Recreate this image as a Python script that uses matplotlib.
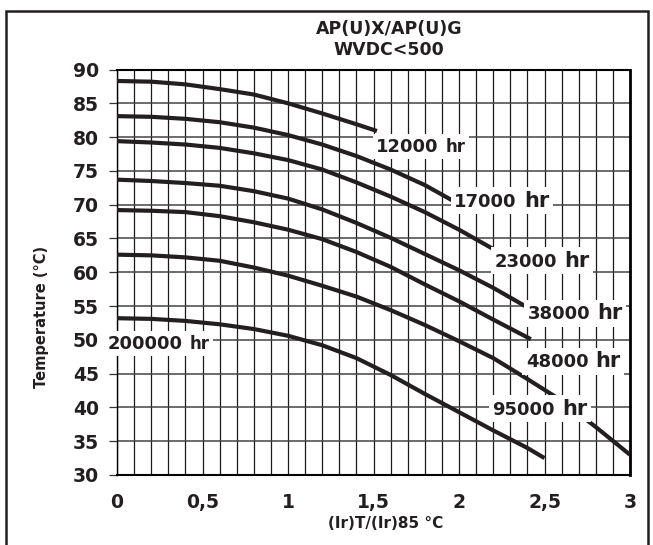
import matplotlib
matplotlib.use("Agg")
import matplotlib.pyplot as plt
from matplotlib.offsetbox import TextArea, HPacker, AnnotationBbox
from matplotlib.patches import Rectangle
from matplotlib.ticker import MultipleLocator

plt.rcParams['font.family'] = ['DejaVu Sans']

# ripple current ratio vs temperature, one curve per life time
x_12000 = [0, 0.2, 0.4, 0.6, 0.8, 1.0, 1.2, 1.4, 1.52]
y_12000 = [88.3, 88.2, 87.8, 87.1, 86.3, 85.0, 83.5, 81.9, 80.9]

x_17000 = [0, 0.2, 0.4, 0.6, 0.8, 1.0, 1.2, 1.4, 1.6, 1.8, 1.97]
y_17000 = [83.1, 83.0, 82.7, 82.2, 81.4, 80.3, 78.9, 77.2, 75.2, 72.9, 70.5]

x_23000 = [0, 0.2, 0.4, 0.6, 0.8, 1.0, 1.2, 1.4, 1.6, 1.8, 2.0, 2.21]
y_23000 = [79.4, 79.2, 78.9, 78.4, 77.6, 76.6, 75.2, 73.3, 71.2, 68.9, 66.3, 63.3]

x_38000 = [0, 0.2, 0.4, 0.6, 0.8, 1.0, 1.2, 1.4, 1.6, 1.8, 2.0, 2.2, 2.4]
y_38000 = [73.7, 73.5, 73.2, 72.8, 72.0, 70.9, 69.3, 67.3, 65.1, 62.7, 60.3, 57.7, 54.8]

x_48000 = [0, 0.2, 0.4, 0.6, 0.8, 1.0, 1.2, 1.4, 1.6, 1.8, 2.0, 2.2, 2.42]
y_48000 = [69.2, 69.1, 68.9, 68.3, 67.4, 66.3, 64.9, 63.0, 60.8, 58.2, 55.7, 53.0, 50.1]

x_95000 = [0, 0.2, 0.4, 0.6, 0.8, 1.0, 1.2, 1.4, 1.6, 1.8, 2.0, 2.2, 2.4, 2.6, 2.8, 3.0]
y_95000 = [62.6, 62.5, 62.2, 61.7, 60.7, 59.5, 58.0, 56.4, 54.4, 52.2, 49.8, 47.3, 44.2, 41.0, 37.1, 33.0]

x_200000 = [0, 0.2, 0.4, 0.6, 0.8, 1.0, 1.2, 1.4, 1.6, 1.8, 2.0, 2.2, 2.4, 2.5]
y_200000 = [53.2, 53.1, 52.8, 52.3, 51.6, 50.6, 49.2, 47.3, 44.8, 42.0, 39.3, 36.6, 34.0, 32.5]

curves_x = [x_12000, x_17000, x_23000, x_38000, x_48000, x_95000, x_200000]
curves_y = [y_12000, y_17000, y_23000, y_38000, y_48000, y_95000, y_200000]

label_nums = ["12000", "17000", "23000", "38000", "48000", "95000", "200000"]
label_x = [1.517, 1.973, 2.207, 2.40, 2.39, 2.196, -0.054]
label_y = [78.6, 70.6, 61.7, 53.95, 46.85, 39.8, 49.4]
hr_sizes = [12, 15, 15, 15, 15, 15, 12]

xticks = [0, 0.5, 1, 1.5, 2, 2.5, 3]
xtick_labels = ["0", "0,5", "1", "1,5", "2", "2,5", "3"]
yticks = [30, 35, 40, 45, 50, 55, 60, 65, 70, 75, 80, 85, 90]

ink = "#231f20"

fig = plt.figure(figsize=(6.53, 5.45), dpi=100)
ax = fig.add_axes([117 / 653, 1 - 475 / 545, 513 / 653, 405.5 / 545])

for xs, ys in zip(curves_x, curves_y):
    ax.plot(xs, ys, color=ink, lw=3.0, solid_capstyle='butt',
            solid_joinstyle='round', zorder=3)

ax.set_xlim(0, 3)
ax.set_ylim(30, 90)
ax.set_xticks(xticks)
ax.set_xticklabels(xtick_labels)
ax.set_yticks(yticks)
ax.xaxis.set_minor_locator(MultipleLocator(0.1))
ax.grid(axis='x', which='both', color='#1a1a1a', lw=0.9, zorder=1)
ax.grid(axis='y', which='major', color='#444444', lw=1.1, zorder=1)
ax.set_axisbelow(True)

ax.tick_params(axis='x', which='both', length=0, pad=13, labelsize=13.5)
ax.tick_params(axis='y', length=6, width=0.9, color='#333333', pad=7, labelsize=13.5)
for lab in ax.get_xticklabels() + ax.get_yticklabels():
    lab.set_fontweight('bold')
    lab.set_color(ink)

ax.spines['left'].set_linewidth(1.0)
ax.spines['top'].set_linewidth(1.5)
ax.spines['bottom'].set_linewidth(1.5)
ax.spines['right'].set_linewidth(2.0)

for num, lx, ly, hs in zip(label_nums, label_x, label_y, hr_sizes):
    t1 = TextArea(num, textprops=dict(size=13, weight='bold', color=ink))
    t2 = TextArea("hr", textprops=dict(size=hs, weight='bold', color=ink))
    box = HPacker(children=[t1, t2], align='baseline', pad=0, sep=5)
    ab = AnnotationBbox(box, (lx, ly), xycoords='data', box_alignment=(0, 0.5),
                        frameon=True, pad=0.25, annotation_clip=False,
                        bboxprops=dict(facecolor='white', edgecolor='none'))
    ab.set_zorder(5)
    ax.add_artist(ab)

fig.text(389 / 653, 1 - 28.5 / 545, "AP(U)X/AP(U)G", ha='center', va='center',
         fontsize=12.5, fontweight='bold', color=ink)
fig.text(389 / 653, 1 - 50 / 545, "WVDC<500", ha='center', va='center',
         fontsize=12.5, fontweight='bold', color=ink)
fig.text(42 / 653, 1 - 317 / 545, "Temperature (°C)", rotation=90, ha='center',
         va='center', fontsize=10.5, fontweight='bold', color=ink)
fig.text(386 / 653, 1 - 524 / 545, "(Ir)T/(Ir)85 °C", ha='center', va='center',
         fontsize=11, fontweight='bold', color=ink)

# outer frame
fig.patches.append(Rectangle((6 / 653, -0.05), 642 / 653, 1.05 - 11 / 545,
                             transform=fig.transFigure, fill=False,
                             edgecolor=ink, lw=1.8))

fig.savefig("out.png", dpi=100)
